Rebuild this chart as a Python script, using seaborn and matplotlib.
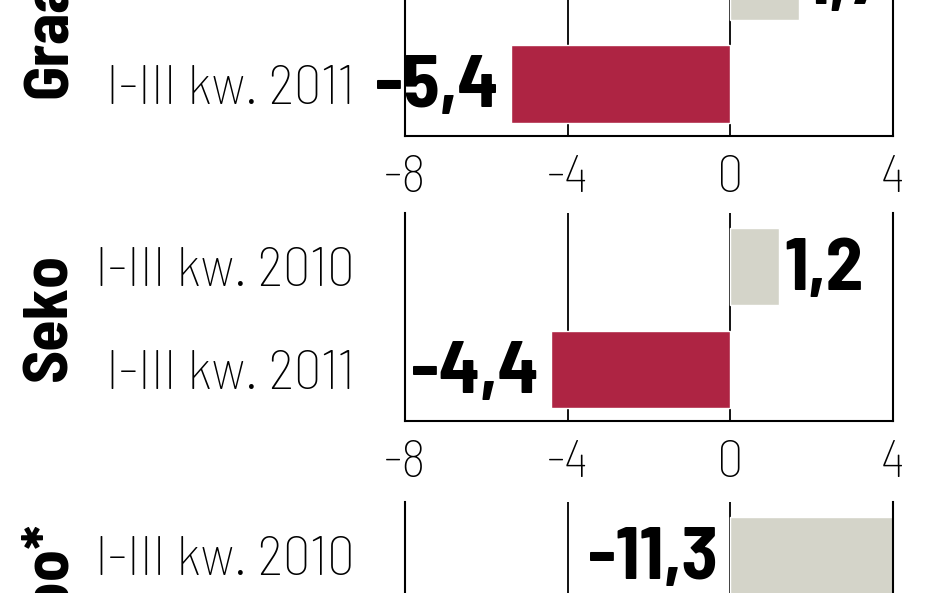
import matplotlib
matplotlib.use("Agg")
import matplotlib.pyplot as plt
import seaborn as sns
import pandas as pd
import numpy as np

# Values (the bottom panel is cut off after its first row)
periods = ['I-III kw. 2010', 'I-III kw. 2011']
companies = ['Graal', 'Seko', 'Wilbo*']
graal_vals = [1.7, -5.4]
seko_vals = [1.2, -4.4]
wilbo_vals = [-11.3]
x_ticks = [-8, -4, 0, 4]

sns.set_theme(style='white')
plt.rcParams['font.family'] = ['Barlow Semi Condensed', 'Barlow Condensed', 'Liberation Sans', 'DejaVu Sans']
plt.rcParams['axes.unicode_minus'] = False
plt.rcParams['text.color'] = 'black'
plt.rcParams['xtick.color'] = 'black'
plt.rcParams['ytick.color'] = 'black'

colors = {'I-III kw. 2010': '#d4d4c9', 'I-III kw. 2011': '#ae2443'}

fig = plt.figure(figsize=(9.48, 5.93), dpi=100)

# panel positions in figure coords (top and bottom panels run past the edges)
left, width = 405 / 948, 488 / 948
panel_pos = [(1 - 136 / 593, 209 / 593), (1 - 421 / 593, 208 / 593), (1 - 711 / 593, 209 / 593)]

for name, vals, (bottom, height) in zip(companies, [graal_vals, seko_vals, wilbo_vals], panel_pos):
    ax = fig.add_axes([left, bottom, width, height])
    df = pd.DataFrame({'okres': periods[:len(vals)], 'wynik': vals})
    # the Wilbo loss is off the scale; the original shows it as a grey bar to the right
    df['bar'] = [abs(v) if v < x_ticks[0] else v for v in vals]
    sns.barplot(data=df, y='okres', x='bar', hue='okres', order=periods, palette=colors,
                orient='h', width=0.75, legend=False, ax=ax, saturation=1)

    ax.set_xlim(x_ticks[0], x_ticks[-1])
    ax.set_ylim(1.5, -0.52)
    ax.set_xticks(x_ticks)
    ax.set_xticklabels([str(t) for t in x_ticks], fontsize=38, fontweight='light')
    ax.set_yticks(range(len(periods)))
    ax.set_yticklabels(periods, fontsize=40, fontweight='light')
    ax.tick_params(axis='x', length=0, pad=14)
    ax.tick_params(axis='y', length=0, pad=36)
    ax.set_xlabel('')
    ax.set_ylabel('')
    ax.grid(axis='x', color='black', linewidth=1.3)
    ax.set_axisbelow(True)
    ax.spines['top'].set_visible(False)
    for s in ['left', 'right', 'bottom']:
        ax.spines[s].set_color('black')
        ax.spines[s].set_linewidth(1.5)

    for i, (v, b) in enumerate(zip(df['wynik'], df['bar'])):
        txt = f'{v:.1f}'.replace('.', ',')
        if v < 0:
            ax.annotate(txt, xy=(min(b, 0), i), xytext=(-9, -3), textcoords='offset points',
                        ha='right', va='center', fontsize=54, fontweight='bold')
        else:
            ax.annotate(txt, xy=(b, i), xytext=(4, -3), textcoords='offset points',
                        ha='left', va='center', fontsize=54, fontweight='bold')

    ax.text(-0.727, 0.5, name, transform=ax.transAxes, rotation=90, ha='center', va='center',
            fontsize=46, fontweight='bold')

fig.savefig('out.png', dpi=100)
